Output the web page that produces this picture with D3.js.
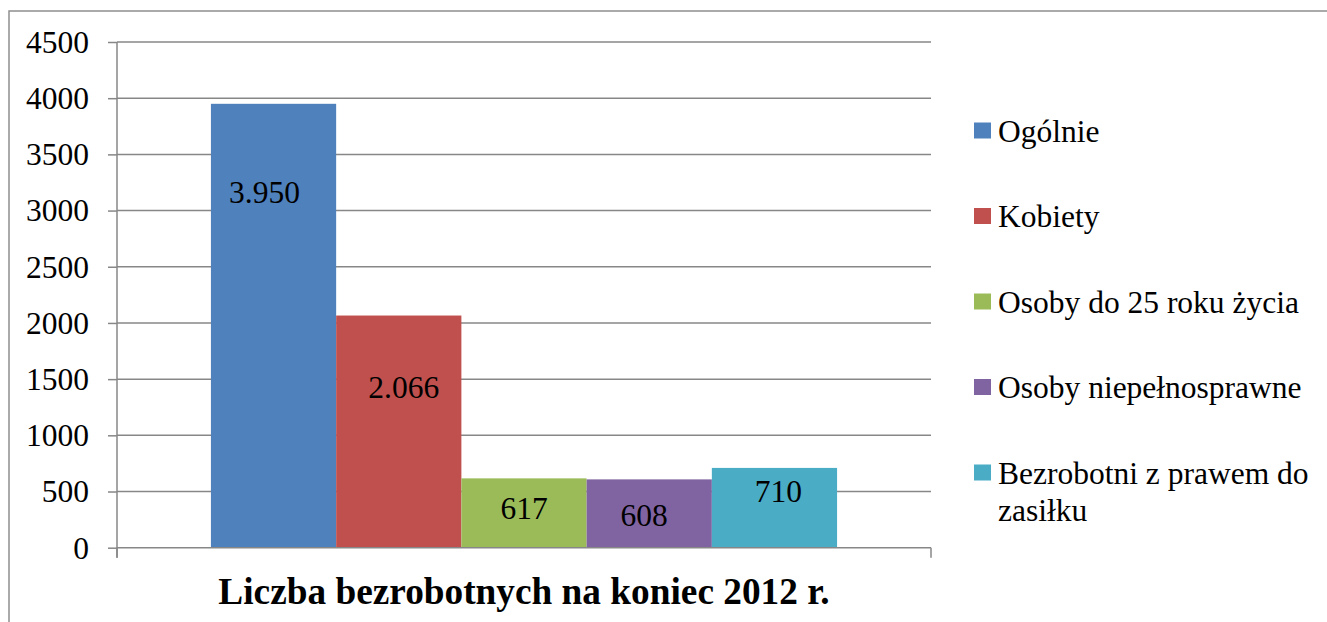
<!DOCTYPE html>
<html>
<head>
<meta charset="utf-8">
<script src="https://cdn.jsdelivr.net/npm/d3@7"></script>
<style>
  body { margin: 0; background: #fff; }
  text { font-family: "Liberation Serif", "Times New Roman", serif; fill: #000; }
</style>
</head>
<body>
<svg id="chart" width="1327" height="622"></svg>
<script>
// data
var title = "Liczba bezrobotnych na koniec 2012 r.";
var categories = ["Ogólnie", "Kobiety", "Osoby do 25 roku życia", "Osoby niepełnosprawne", "Bezrobotni z prawem do zasiłku"];
var values = [3950, 2066, 617, 608, 710];
var valueLabels = ["3.950", "2.066", "617", "608", "710"];
var yTicks = [0, 500, 1000, 1500, 2000, 2500, 3000, 3500, 4000, 4500];
var colors = ["#4F81BD", "#C0504D", "#9BBB59", "#8064A2", "#4BACC6"];

// labels were dragged by hand in the original, [dx, dy] from bar top
var labelNudge = [[-9, 99], [5, 82], [0, 41], [-5, 47], [4, 34]];

var svg = d3.select("#chart");
var fs = 31.5;
var gridColor = "#878787";

// outer frame (only left & top visible)
svg.append("path")
	.attr("d", "M9,622 L9,11 L1327,11")
	.attr("fill", "none")
	.attr("stroke", "#8e8e8e")
	.attr("stroke-width", 1.5);

var plotL = 117, plotR = 931, plotT = 42, plotB = 547.7;

var y = d3.scaleLinear().domain([0, 4500]).range([plotB, plotT]);

var group = d3.scaleBand().domain([title]).range([plotL, plotR]);
var x = d3.scaleBand().domain(categories)
	.range([group(title), group(title) + group.bandwidth()])
	.paddingInner(0).paddingOuter(0.75);

// gridlines
svg.append("g").selectAll("line")
	.data(yTicks.filter(function(d){ return d > 0; }))
	.enter().append("line")
	.attr("x1", plotL).attr("x2", plotR)
	.attr("y1", function(d){ return y(d); })
	.attr("y2", function(d){ return y(d); })
	.attr("stroke", gridColor)
	.attr("stroke-width", 1.5);

// y axis
var yAxis = svg.append("g")
	.attr("transform", "translate(" + plotL + ",0)")
	.call(d3.axisLeft(y).tickValues(yTicks).tickSize(9).tickPadding(19).tickFormat(d3.format("d")));
yAxis.select(".domain").remove();
yAxis.append("line").attr("x1", 0).attr("x2", 0).attr("y1", plotT).attr("y2", plotB + 10);
yAxis.selectAll("line").attr("stroke", gridColor).attr("stroke-width", 1.5);
yAxis.selectAll("text")
	.attr("font-size", fs)
	.attr("font-family", "Liberation Serif")
	.attr("fill", "#000")
	.attr("dy", "0.33em");

// bars
svg.append("g").selectAll("rect")
	.data(values)
	.enter().append("rect")
	.attr("x", function(d, i){ return x(categories[i]); })
	.attr("width", x.bandwidth())
	.attr("y", function(d){ return y(d); })
	.attr("height", function(d){ return y(0) - y(d); })
	.attr("fill", function(d, i){ return colors[i]; });

// category axis (bottom)
var xAxis = svg.append("g");
xAxis.append("line")
	.attr("x1", plotL).attr("x2", plotR)
	.attr("y1", plotB).attr("y2", plotB);
xAxis.selectAll(".tk")
	.data(group.range())
	.enter().append("line")
	.attr("class", "tk")
	.attr("x1", function(d){ return d; }).attr("x2", function(d){ return d; })
	.attr("y1", plotB).attr("y2", plotB + 10);
xAxis.selectAll("line").attr("stroke", gridColor).attr("stroke-width", 1.5);

// value labels
svg.append("g").selectAll("text")
	.data(values)
	.enter().append("text")
	.attr("x", function(d, i){ return x(categories[i]) + x.bandwidth() / 2 + labelNudge[i][0]; })
	.attr("y", function(d, i){ return y(d) + labelNudge[i][1]; })
	.attr("text-anchor", "middle")
	.attr("font-size", fs)
	.text(function(d, i){ return valueLabels[i]; });

// title under the axis
svg.append("text")
	.attr("x", group(title) + group.bandwidth() / 2)
	.attr("y", 604)
	.attr("text-anchor", "middle")
	.attr("font-size", 37.3)
	.attr("font-weight", "bold")
	.text(title);

// legend
var legX = 974, legY0 = 130.5, legStep = 85.5, lineH = 37, maxW = 318;
var leg = svg.append("g").selectAll("g")
	.data(categories)
	.enter().append("g")
	.attr("transform", function(d, i){ return "translate(" + legX + "," + (legY0 + i * legStep) + ")"; });

leg.append("rect")
	.attr("x", 0).attr("y", -8)
	.attr("width", 17).attr("height", 16)
	.attr("fill", function(d, i){ return colors[i]; });

leg.append("text")
	.attr("x", 24)
	.attr("y", 11)
	.attr("font-size", fs)
	.each(function(d){
		var el = d3.select(this);
		var words = d.split(" ");
		var line = [];
		var tspan = el.append("tspan").attr("x", 24);
		words.forEach(function(w){
			line.push(w);
			tspan.text(line.join(" "));
			if (tspan.node().getComputedTextLength() > maxW && line.length > 1) {
				line.pop();
				tspan.text(line.join(" "));
				line = [w];
				tspan = el.append("tspan").attr("x", 24).attr("dy", lineH).text(w);
			}
		});
	});
</script>
</body>
</html>
